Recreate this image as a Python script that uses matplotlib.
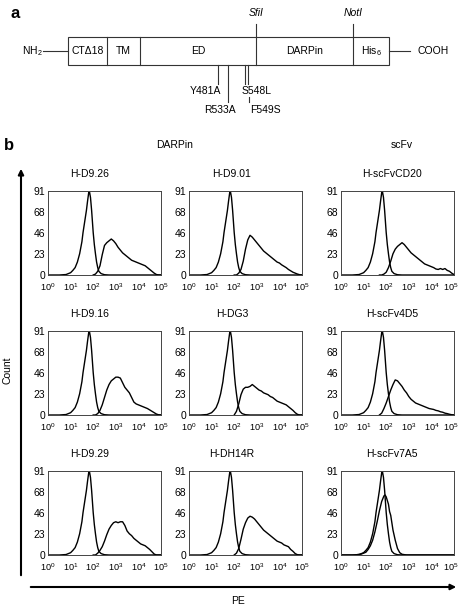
import numpy as np
import matplotlib
matplotlib.use('Agg')
import matplotlib.pyplot as plt
from matplotlib.patches import Rectangle, FancyArrowPatch
from matplotlib.transforms import ScaledTranslation

plt.rcParams['font.family'] = ['Liberation Sans', 'DejaVu Sans']
plt.rcParams['mathtext.fontset'] = 'custom'
plt.rcParams['mathtext.rm'] = 'Liberation Sans'
plt.rcParams['mathtext.it'] = 'Liberation Sans:italic'

# ---- panel a: construct domains ----
domains = ['CT\u039418', 'TM', 'ED', 'DARPin', 'His$_6$']
mutations = ['Y481A', 'R533A', 'S548L', 'F549S']
sites = ['SfiI', 'NotI']

# ---- panel b: flow cytometry histograms (x in log10 decades, y = count) ----
col_titles = ['DARPin', 'scFv']
panel_titles = ['H-D9.26', 'H-D9.01', 'H-scFvCD20',
                'H-D9.16', 'H-DG3', 'H-scFv4D5',
                'H-D9.29', 'H-DH14R', 'H-scFv7A5']
y_ticks = [0, 23, 46, 68, 91]
x_decades = [0, 1, 2, 3, 4, 5]

ctrl_x = [0.0, 0.5, 0.8, 1.0, 1.1, 1.2, 1.3, 1.4, 1.5, 1.55, 1.6, 1.7, 1.75, 1.8, 1.83,
          1.88, 1.93, 2.0, 2.05, 2.1, 2.15, 2.2, 2.25, 2.35, 2.5, 2.7, 5.0]
ctrl_y = [0, 0, 0.5, 2.5, 5, 8, 14, 23, 36, 46, 54, 70, 80, 89, 91,
          84, 70, 46, 33, 23, 14, 8, 4, 1.5, 0.3, 0, 0]

pos_x = [2.0, 2.1, 2.2, 2.3, 2.4, 2.5, 2.6, 2.7, 2.8, 2.9, 3.0, 3.1, 3.2, 3.3, 3.4,
         3.5, 3.6, 3.7, 3.8, 3.9, 4.0, 4.1, 4.2, 4.3, 4.4, 4.5, 4.6, 4.7, 4.8, 4.9, 5.0]
pos_D926 = [0, 1, 4, 10, 22, 32, 35, 37, 39, 37, 34, 30, 27, 24, 22,
            20, 18, 16, 15, 14, 13, 12, 11, 10, 8, 6, 4, 2, 0.5, 0, 0]
pos_D901 = [0, 0, 2, 6, 15, 28, 38, 43, 41, 38, 35, 32, 29, 26, 24,
            22, 20, 18, 16, 14, 13, 11, 9.5, 8, 6, 4.5, 3, 2, 1, 0.3, 0]
pos_D916 = [0, 0, 1.5, 5, 11, 19, 27, 33, 37, 39, 41, 41, 40, 35, 30,
            27, 24, 19, 14, 12, 11, 10, 9, 8, 7, 5.5, 4, 2.5, 1, 0.2, 0]
pos_DG3 = [0, 4, 12, 22, 28, 30, 30, 31, 33, 31, 29, 27, 26, 24, 23,
           22, 20, 19, 17, 15, 14, 13, 12, 11, 9, 7, 5, 2.5, 0.7, 0, 0]
pos_D929 = [0, 0, 2, 5, 9, 15, 22, 28, 32, 35, 36, 35, 36, 36, 32,
            26, 23, 21, 18, 16, 14, 12, 11, 10, 8, 6, 3.5, 1, 0, 0, 0]
pos_DH14R = [0, 2, 7, 17, 28, 35, 40, 42, 41, 39, 36, 33, 30, 27, 25,
             23, 21, 19, 17, 15, 14, 13, 11, 10, 9, 6, 4, 1.5, 0.3, 0, 0]

pos_x_scfv = [1.7, 1.8, 1.9, 2.0, 2.1, 2.2, 2.3, 2.4, 2.5, 2.6, 2.7, 2.8, 2.9, 3.0, 3.1,
              3.2, 3.3, 3.4, 3.5, 3.6, 3.7, 3.8, 3.9, 4.0, 4.1, 4.2, 4.3, 4.4, 4.5, 4.6,
              4.7, 4.8, 4.9, 5.0]
pos_CD20 = [0, 0, 1, 3, 8, 15, 23, 28, 31, 33, 35, 33, 30, 27, 24,
            22, 20, 18, 16, 14, 12, 11, 10, 9, 8, 6.5, 6, 7, 6, 7,
            5, 4, 2, 0.5]
pos_4D5 = [0, 2, 7, 13, 20, 27, 33, 38, 37, 34, 31, 27, 24, 20, 17,
           15, 13, 12, 11, 10, 9, 8, 7, 6.5, 6, 5, 4.5, 3.5, 3, 2,
           1.5, 0.8, 0.3, 0]

b7a5_x = [0.0, 0.6, 0.9, 1.1, 1.2, 1.3, 1.4, 1.5, 1.6, 1.7, 1.8, 1.9, 1.95, 2.0, 2.1,
          2.15, 2.2, 2.25, 2.3, 2.4, 2.5, 2.6, 2.7, 2.9, 5.0]
b7a5_y = [0, 0, 1, 3, 6, 10, 16, 25, 36, 48, 58, 64, 65, 63, 55,
          47, 43, 35, 27, 16, 7, 2.5, 0.8, 0, 0]

curves = [
    [(ctrl_x, ctrl_y), (pos_x, pos_D926)],
    [(ctrl_x, ctrl_y), (pos_x, pos_D901)],
    [(ctrl_x, ctrl_y), (pos_x_scfv, pos_CD20)],
    [(ctrl_x, ctrl_y), (pos_x, pos_D916)],
    [(ctrl_x, ctrl_y), (pos_x, pos_DG3)],
    [(ctrl_x, ctrl_y), (pos_x_scfv, pos_4D5)],
    [(ctrl_x, ctrl_y), (pos_x, pos_D929)],
    [(ctrl_x, ctrl_y), (pos_x, pos_DH14R)],
    [(ctrl_x, ctrl_y), (b7a5_x, b7a5_y)],
]

W, H = 460, 608
fig = plt.figure(figsize=(W / 100, H / 100), dpi=100)


def box(x0, y_top, w, h):
    return [x0 / W, 1 - (y_top + h) / H, w / W, h / H]


col_left = [48, 189, 341]
row_top = [191, 331, 471]
title_x = [90, 232, 392]
ax_w, ax_h = 113, 84

for i, name in enumerate(panel_titles):
    r, c = divmod(i, 3)
    ax = fig.add_axes(box(col_left[c], row_top[r], ax_w, ax_h))
    for xs, ys in curves[i]:
        ax.plot(10 ** np.array(xs), ys, color='black', lw=1.0)
    ax.set_xscale('log')
    ax.set_xlim(1, 1e5)
    ax.set_ylim(0, 91)
    ax.set_xticks([10.0 ** d for d in x_decades])
    ax.set_xticklabels([r'$10^{%d}$' % d for d in x_decades])
    ax.minorticks_off()
    ax.set_yticks(y_ticks)
    ax.tick_params(length=0, pad=2)
    ax.tick_params(axis='x', labelsize=6.6, pad=4.5)
    ax.tick_params(axis='y', labelsize=7.5)
    if c == 2:
        # nudge the last decade label so it stays inside the figure
        lab = ax.get_xticklabels()[-1]
        lab.set_transform(lab.get_transform() + ScaledTranslation(-3 / 100, 0, fig.dpi_scale_trans))
    for sp in ax.spines.values():
        sp.set_linewidth(0.7)
        sp.set_color('#444444')
    fig.text(title_x[c] / W, 1 - (row_top[r] - 17) / H, name,
             ha='center', va='center', fontsize=7.5)

# overlay in pixel coordinates for panel a and the axis arrows
ov = fig.add_axes([0, 0, 1, 1])
ov.set_xlim(0, W)
ov.set_ylim(H, 0)
ov.axis('off')

ov.text(15, 13, 'a', fontsize=12, fontweight='bold', ha='center', va='center')
ov.text(9, 146, 'b', fontsize=12, fontweight='bold', ha='center', va='center')

# construct bar
edges = [68, 107, 140, 256, 353, 389]
ov.add_patch(Rectangle((edges[0], 37), edges[-1] - edges[0], 28,
                       fill=False, lw=0.8, color='#333333'))
for e in edges[1:-1]:
    ov.plot([e, e], [37, 65], color='#333333', lw=0.8)
for j, d in enumerate(domains):
    ov.text((edges[j] + edges[j + 1]) / 2, 51, d, ha='center', va='center', fontsize=7.5)
ov.plot([43, 68], [51, 51], color='#333333', lw=0.8)
ov.plot([389, 410], [51, 51], color='#333333', lw=0.8)
ov.text(32, 51, 'NH$_2$', ha='center', va='center', fontsize=7.5)
ov.text(433, 51, 'COOH', ha='center', va='center', fontsize=7.5)
for sx, s in zip([256, 353], sites):
    ov.plot([sx, sx], [24, 37], color='#333333', lw=0.8)
    ov.text(sx, 13, s, ha='center', va='center', fontsize=7.5, style='italic')

# mutations
ov.plot([218.3, 218.3], [65, 84], color='#333333', lw=0.8)
ov.plot([228.3, 228.3], [65, 102], color='#333333', lw=0.8)
ov.plot([245, 245], [65, 84], color='#333333', lw=0.8)
ov.plot([248.5, 248.5], [65, 84], color='#333333', lw=0.8)
ov.plot([249, 249], [97, 102], color='#333333', lw=0.8)
mut_pos = [(205.5, 91), (219.5, 110), (256.5, 91), (265, 110)]
for m, (mx, my) in zip(mutations, mut_pos):
    ov.text(mx, my, m, ha='center', va='center', fontsize=7.5)

# column headers
ov.text(175, 145, col_titles[0], ha='center', va='center', fontsize=7.5)
ov.text(402, 145, col_titles[1], ha='center', va='center', fontsize=7.5)

# axis arrows
ov.add_patch(FancyArrowPatch((21, 578), (21, 166), arrowstyle='-|>',
                             mutation_scale=8, lw=1.5, color='black'))
ov.add_patch(FancyArrowPatch((28, 587), (459, 587), arrowstyle='-|>',
                             mutation_scale=8, lw=1.5, color='black'))
ov.text(8, 370, 'Count', rotation=90, ha='center', va='center', fontsize=7.5)
ov.text(238, 601, 'PE', ha='center', va='center', fontsize=7.5)

fig.savefig('out.png', dpi=100)
